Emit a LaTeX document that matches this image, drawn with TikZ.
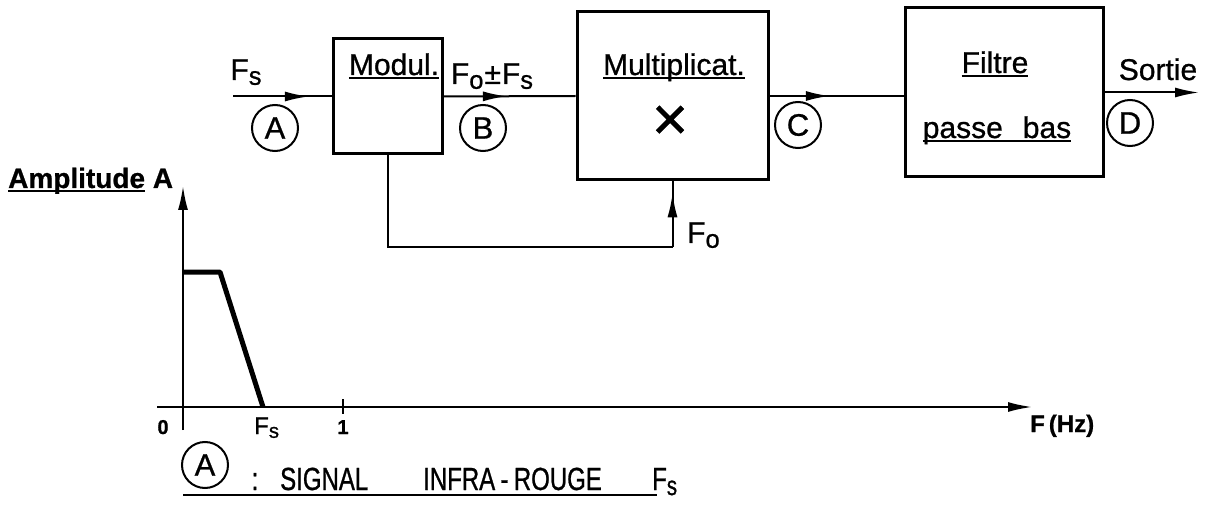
\documentclass[tikz,border=0pt]{standalone}
\usepackage{fontspec}
\setmainfont{Liberation Sans}[FakeBold=0.8]
\newfontfamily\narrowf[FakeStretch=0.75,FakeBold=0.8]{Liberation Sans}
\usetikzlibrary{arrows.meta,decorations.markings}
\newcommand\lowsub[1]{\raisebox{-0.3ex}{\scalebox{0.85}{#1}}}
\newcommand\ulin[1]{\setbox0\hbox{#1}\rlap{\raisebox{-4.5pt}{\rule{\wd0}{2.4pt}}}\box0}
\begin{document}
\begin{tikzpicture}[x=1pt,y=-1pt,
  blk/.style={draw,line width=3pt,inner sep=0pt},
  ln/.style={line width=2pt},
  lab/.style={inner sep=0pt,font=\fontsize{30}{32}\selectfont},
  circ/.style={draw,circle,line width=2pt,minimum size=46pt,inner sep=0pt,font=\fontsize{31}{31}\selectfont},
  axl/.style={inner sep=0pt,font=\bfseries\fontsize{20}{22}\selectfont},
  tip/.style={-{Latex[length=24pt,width=10pt]}},
  midarr/.style={postaction={decorate},decoration={markings,mark=at position #1 with {\arrow{Latex[length=24pt,width=10pt]}}}}]
\useasboundingbox (0,0) rectangle (1213,505);

% blocks
\node[blk,minimum width=109pt,minimum height=115pt] (modul) at (387.5,96.5) {};
\node[blk,minimum width=191pt,minimum height=168pt] (mult) at (672.5,96) {};
\node[blk,minimum width=198pt,minimum height=169pt] (filt) at (1004,92.5) {};

\node[lab,anchor=base] (tmodul) at (394,75) {\ulin{Modul.}};
\node[lab,anchor=base] (tmult) at (674,75) {\ulin{Multiplicat.}};
\node[inner sep=0pt,font=\fontsize{62}{62}\selectfont] (times) at (670,123) {×};
\node[lab,anchor=base] (tfilt) at (995,73) {\ulin{Filtre}};
\node[lab,anchor=base] (tpb) at (997,138) {\ulin{passe\hspace{20pt}bas}};

% signal path
\coordinate (in) at (233,96.5);
\draw[ln,midarr=0.77] (in) -- (modul.west);
\draw[ln,midarr=0.48] (modul.east) -- (mult.west);
\draw[ln,midarr=0.45] (mult.east) -- (mult.east -| filt.west);
\coordinate (out) at (1199,92.5);
\draw[ln,tip] (filt.east) -- (out);

% feedback
\coordinate (fbL) at (387.5,247);
\draw[ln] (modul.south) -- (fbL) -- (fbL -| mult.south);
\draw[ln,midarr=0.82] (fbL -| mult.south) -- (mult.south);

% labels
\node[lab,anchor=base] (lfs) at (246,80) {F\lowsub{s}};
\node[lab,anchor=base] (lfofs) at (492,84) {F\lowsub{o}\kern1pt±\kern1pt F\lowsub{s}};
\node[lab,anchor=base west] (lfo) at (687,243) {F\lowsub{o}};
\node[lab,anchor=base] (lsortie) at (1158,80) {Sortie};

\node[circ] (cA) at (275,128) {A};
\node[circ] (cB) at (483,128) {B};
\node[circ] (cC) at (798,125) {C};
\node[circ] (cD) at (1130,123) {D};

% graph
\coordinate (ybot) at (183,430);
\coordinate (ytop) at (183,186);
\coordinate (xl) at (157,407);
\coordinate (xr) at (1032,407);
\draw[ln,tip] (ybot) -- (ytop);
\draw[ln,tip] (xl) -- (xr);
\coordinate (p1) at (183,272);
\coordinate (p2) at (220,272);
\coordinate (p3) at (263,407);
\draw[line width=5pt,line join=round] (p1) -- (p2) -- (p3);
\coordinate (t1a) at (343,399);
\coordinate (t1b) at (343,414);
\draw[ln] (t1a) -- (t1b);

\node[lab,anchor=base west,font=\bfseries\fontsize{28}{30}\selectfont] (amp) at (8,188) {\ulin{Amplitude}\ A};
\node[axl,anchor=base] (l0) at (163,434) {0};
\node[axl,anchor=base] (l1) at (343,434) {1};
\node[anchor=base west,inner sep=0pt,font=\fontsize{24}{26}\selectfont] (lfsx) at (254,434) {F\lowsub{s}};
\node[anchor=base west,inner sep=0pt,font=\bfseries\fontsize{24}{26}\selectfont] (lfhz) at (1030,432) {F\,(Hz)};

% caption
\node[circ] (cA2) at (205,465) {A};
\node[lab,anchor=base,font=\narrowf\fontsize{32}{32}\selectfont] (colon) at (255,490) {:};
\node[lab,anchor=base west,font=\narrowf\fontsize{32}{32}\selectfont] (sig) at (280,490) {SIGNAL};
\node[lab,anchor=base west,font=\narrowf\fontsize{32}{32}\selectfont] (infra) at (423,490) {INFRA\,-\,ROUGE};
\node[lab,anchor=base west,font=\narrowf\fontsize{32}{32}\selectfont] (capfs) at (652,490) {F\lowsub{s}};
\coordinate (ulL) at (183,495);
\coordinate (ulR) at (657,495);
\draw[ln] (ulL) -- (ulR);
\end{tikzpicture}
\end{document}
